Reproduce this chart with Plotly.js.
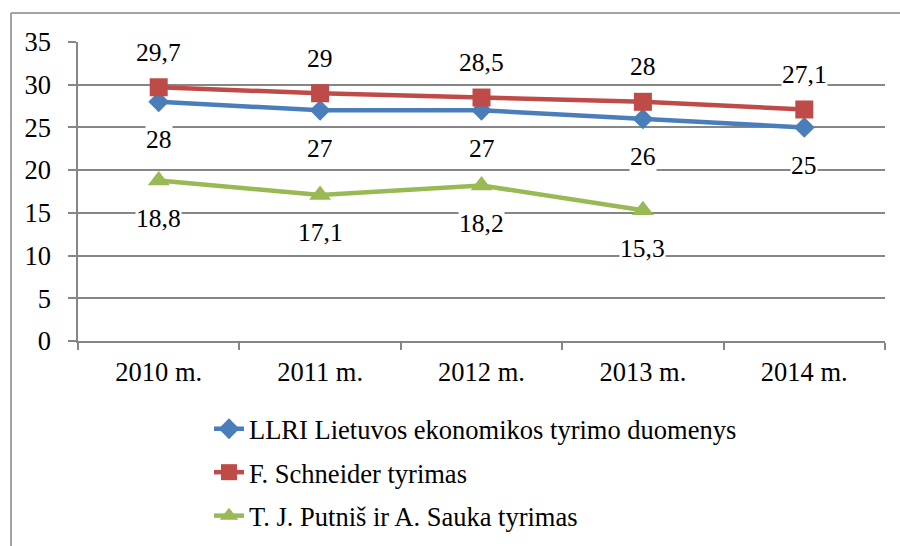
<!DOCTYPE html>
<html>
<head>
<meta charset="utf-8">
<script src="https://cdn.plot.ly/plotly-3.0.1.min.js"></script>
<style>
  html, body { margin: 0; padding: 0; background: #fff; }
  #chart { width: 900px; height: 546px; }
</style>
</head>
<body>
<div id="chart"></div>
<script>
const categories = ["2010 m.", "2011 m.", "2012 m.", "2013 m.", "2014 m."];
const seriesNames = [
  "LLRI Lietuvos ekonomikos tyrimo duomenys",
  "F. Schneider tyrimas",
  "T. J. Putniš ir A. Sauka tyrimas"
];
const llri = [28, 27, 27, 26, 25];
const schneider = [29.7, 29, 28.5, 28, 27.1];
const putnis = [18.8, 17.1, 18.2, 15.3, null];
const yTicks = [0, 5, 10, 15, 20, 25, 30, 35];

const FONT = "'Liberation Serif', 'Times New Roman', serif";
const colors = ["#4A7EBB", "#BE4B48", "#98B954"];
const symbols = ["diamond", "square", "triangle-up"];
const sizes = [16, 18, 19];
const data = [llri, schneider, putnis];
const labelShift = [-38, 35, -38];

const traces = data.map((vals, i) => ({
  type: "scatter",
  mode: "lines+markers",
  x: categories,
  y: vals,
  name: seriesNames[i],
  legendgroup: "g" + i,
  line: { color: colors[i], width: 4.5 },
  marker: { color: colors[i], symbol: symbols[i], size: sizes[i], line: { width: 0 } },
  cliponaxis: false,
  connectgaps: false,
  hoverinfo: "x+y"
}));

const annotations = [];
data.forEach((vals, i) => {
  vals.forEach((v, j) => {
    if (v === null) return;
    annotations.push({
      x: categories[j], y: v, xref: "x", yref: "y",
      text: String(v).replace(".", ","),
      showarrow: false,
      yshift: labelShift[i],
      xanchor: "center", yanchor: "middle",
      bgcolor: "#ffffff",
      borderpad: 0,
      font: { family: FONT, size: 25.5, color: "#000" }
    });
  });
});

// chart outer border (left + top)
const L = 78, R = 885, T = 42, B = 341;
const px = v => (v - L) / (R - L);
const py = v => (B - v) / (B - T);
const shapes = [
  { type: "line", xref: "paper", yref: "paper", x0: px(11), x1: px(11), y0: py(546), y1: py(13),
    line: { color: "#868686", width: 1.5 }, layer: "below" },
  { type: "line", xref: "paper", yref: "paper", x0: px(11), x1: px(900), y0: py(13), y1: py(13),
    line: { color: "#868686", width: 1.5 }, layer: "below" }
];

const layout = {
  width: 900, height: 546,
  margin: { l: L, r: 900 - R, t: T, b: 546 - B, pad: 0, autoexpand: false },
  paper_bgcolor: "#ffffff",
  plot_bgcolor: "#ffffff",
  font: { family: FONT, size: 26.5, color: "#000" },
  showlegend: true,
  legend: {
    x: px(209), y: py(405), xanchor: "left", yanchor: "top",
    font: { family: FONT, size: 26.5, color: "#000" },
    tracegroupgap: 6,
    bgcolor: "rgba(0,0,0,0)",
    itemclick: false
  },
  xaxis: {
    type: "category",
    range: [-0.5, 4.5],
    showgrid: false,
    showline: true, linecolor: "#868686", linewidth: 1.5,
    ticks: "outside", tickson: "boundaries", ticklen: 7, tickcolor: "#868686", tickwidth: 1.5,
    tickfont: { family: FONT, size: 26.5, color: "#000" },
    ticklabelstandoff: 6,
    zeroline: false, fixedrange: true
  },
  yaxis: {
    range: [0, 35],
    tickvals: yTicks,
    ticktext: yTicks.map(String),
    showgrid: true, gridcolor: "#868686", gridwidth: 1.5,
    showline: true, linecolor: "#868686", linewidth: 1.5,
    ticks: "outside", ticklen: 8, tickcolor: "#868686", tickwidth: 1.5,
    tickfont: { family: FONT, size: 26.5, color: "#000" },
    ticklabelstandoff: 12,
    zeroline: false, fixedrange: true
  },
  annotations: annotations,
  shapes: shapes
};

Plotly.newPlot("chart", traces, layout, { displayModeBar: false, staticPlot: false });
</script>
</body>
</html>
